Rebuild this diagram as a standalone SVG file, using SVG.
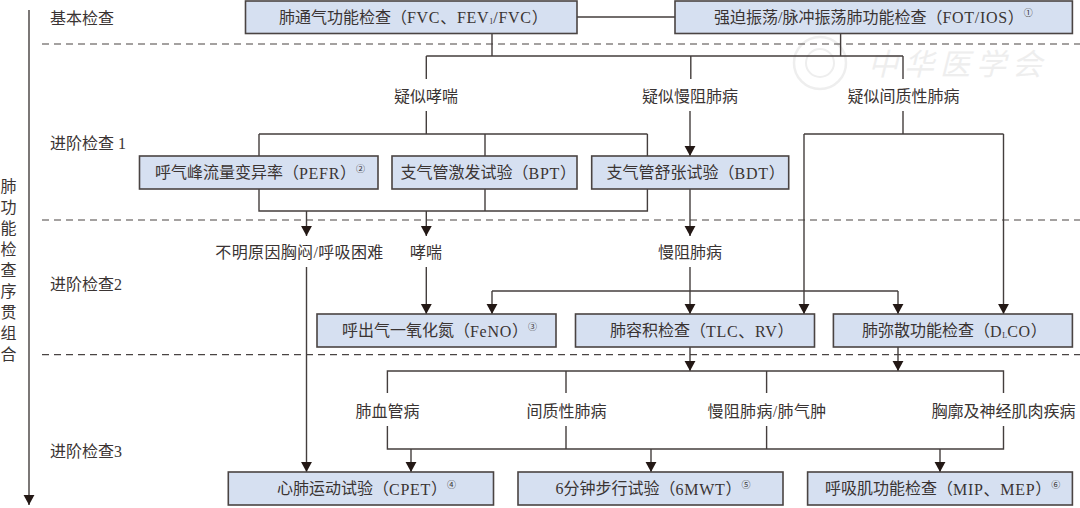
<svg xmlns="http://www.w3.org/2000/svg" width="1080" height="508" viewBox="0 0 1080 508">
<style>
text{font-family:"Liberation Serif","Noto Sans CJK SC",serif;font-size:16px;fill:#3a3433;text-anchor:middle;dominant-baseline:central}
.l,.t{text-anchor:start}
.box{fill:#d6e0f1;stroke:#4a4443;stroke-width:1.6}
.c{fill:none;stroke:#443e3d;stroke-width:1.4}
.d{fill:none;stroke:#4a4443;stroke-width:1.2;stroke-dasharray:7 5}
.w{letter-spacing:.7px}
.k{letter-spacing:.35px}
.s{font-size:9px}
.b{font-size:8px}
.wm{font-size:30px;fill:#eeeeee;letter-spacing:6px;font-style:italic;text-anchor:start}
</style>
<defs>
<marker id="a" markerUnits="userSpaceOnUse" markerWidth="13" markerHeight="13" refX="10.5" refY="6" orient="auto"><path d="M0,0.3 L10.5,6 L0,11.7 Z" fill="#231815"/></marker>
</defs>
<g id="watermark">
<circle cx="820" cy="63" r="26" fill="none" stroke="#eeeeee" stroke-width="2.5"/>
<circle cx="820" cy="63" r="14" fill="none" stroke="#eeeeee" stroke-width="2"/>
<text class="wm" x="868" y="64">中华医学会</text>
</g>
<g id="dividers">
<path class="d" d="M42,44H1080M42,220H1080M42,354.7H1080"/>
</g>
<g id="connectors">
<path class="c" marker-end="url(#a)" d="M29,10V505"/>
<path class="c" d="M577,17H675M492,33V56M840.6,33V56M426.3,56H903M426.3,56V79M690.8,56V79M903,56V79"/>
<path class="c" d="M426.3,111V134M259,134H647.4M259,134V156M485,134V156M647.4,134V156"/>
<path class="c" marker-end="url(#a)" d="M690,111V156"/>
<path class="c" d="M903,111V134M804,134H1003.5"/>
<path class="c" d="M259,189V211H647.4V189M485,189V211"/>
<path class="c" marker-end="url(#a)" d="M306.5,211V236"/>
<path class="c" marker-end="url(#a)" d="M426.3,211V236"/>
<path class="c" marker-end="url(#a)" d="M690,189V236"/>
<path class="c" marker-end="url(#a)" d="M306.5,267V472"/>
<path class="c" marker-end="url(#a)" d="M426.3,267V314"/>
<path class="c" marker-end="url(#a)" d="M690,267V314"/>
<path class="c" d="M492,291H898"/>
<path class="c" marker-end="url(#a)" d="M492,291V314"/>
<path class="c" marker-end="url(#a)" d="M898,291V314"/>
<path class="c" marker-end="url(#a)" d="M804,134V314"/>
<path class="c" marker-end="url(#a)" d="M1003.5,134V314"/>
<path class="c" marker-end="url(#a)" d="M690,347V371"/>
<path class="c" marker-end="url(#a)" d="M898,347V371"/>
<path class="c" d="M387.4,393V371H1003.5V393M566,371V393M766.6,371V393"/>
<path class="c" d="M387.4,426V449H1003.5V426M566,426V449M766.6,426V449"/>
<path class="c" marker-end="url(#a)" d="M411,449V472"/>
<path class="c" marker-end="url(#a)" d="M651,449V472"/>
<path class="c" marker-end="url(#a)" d="M940,449V472"/>
</g>
<g id="axis-label">
<text x="8.5" y="186">肺</text><text x="8.5" y="207">功</text><text x="8.5" y="228">能</text><text x="8.5" y="249">检</text><text x="8.5" y="270">查</text><text x="8.5" y="291">序</text><text x="8.5" y="312">贯</text><text x="8.5" y="333">组</text><text x="8.5" y="354">合</text>
</g>
<g id="stages">
<text class="l" x="50" y="18">基本检查</text>
<text class="l" x="50" y="143">进阶检查 1</text>
<text class="l" x="50" y="284">进阶检查2</text>
<text class="l" x="50" y="451">进阶检查3</text>
</g>
<g id="labels">
<text id="l1" x="426" y="96">疑似哮喘</text>
<text id="l2" x="690" y="96">疑似慢阻肺病</text>
<text id="l3" x="903.5" y="96">疑似间质性肺病</text>
<text id="l4" class="k" x="299.5" y="252">不明原因胸闷/呼吸困难</text>
<text id="l5" x="426" y="252">哮喘</text>
<text id="l6" x="690" y="252">慢阻肺病</text>
<text id="l7" x="387.5" y="411">肺血管病</text>
<text id="l8" x="566.5" y="411">间质性肺病</text>
<text id="l9" class="k" x="767" y="411">慢阻肺病/肺气肿</text>
<text id="l10" x="1003.5" y="411">胸廓及神经肌肉疾病</text>
</g>
<g id="n-spiro"><rect class="box" x="245.5" y="1" width="331.5" height="32.5"/><text class="t" x="279" y="17">肺通气功能检查（<tspan class="w">FVC、FEV</tspan><tspan class="b" dy="4">1</tspan><tspan class="w" dy="-4">/FVC</tspan>）</text></g>
<g id="n-fot"><rect class="box" x="675" y="1" width="397.4" height="32.5"/><text class="t" x="714" y="17">强迫振荡/脉冲振荡肺功能检查（<tspan class="w">FOT/IOS</tspan>）<tspan class="s" dy="-4">①</tspan></text></g>
<g id="n-pefr"><rect class="box" x="139.5" y="156" width="238.5" height="33"/><text class="t" x="155" y="172.5">呼气峰流量变异率（<tspan class="w">PEFR</tspan>）<tspan class="s" dy="-4">②</tspan></text></g>
<g id="n-bpt"><rect class="box" x="392" y="156" width="185" height="33"/><text class="t" x="400.5" y="172.5">支气管激发试验（<tspan class="w">BPT</tspan>）</text></g>
<g id="n-bdt"><rect class="box" x="591.7" y="156" width="197" height="33"/><text class="t" x="606.5" y="172.5">支气管舒张试验（<tspan class="w">BDT</tspan>）</text></g>
<g id="n-feno"><rect class="box" x="317" y="314" width="239" height="33"/><text class="t" x="342" y="330.5">呼出气一氧化氮（<tspan class="w">FeNO</tspan>）<tspan class="s" dy="-4">③</tspan></text></g>
<g id="n-tlc"><rect class="box" x="575.5" y="314" width="239" height="33"/><text class="t" x="610" y="330.5">肺容积检查（<tspan class="w">TLC、RV</tspan>）</text></g>
<g id="n-dlco"><rect class="box" x="833.4" y="314" width="239" height="33"/><text class="t" x="862" y="330.5">肺弥散功能检查（<tspan class="w">D</tspan><tspan class="b" dy="4">L</tspan><tspan class="w" dy="-4">CO</tspan>）</text></g>
<g id="n-cpet"><rect class="box" x="228.3" y="472" width="265.2" height="33"/><text class="t" x="277" y="488.5">心肺运动试验（<tspan class="w">CPET</tspan>）<tspan class="s" dy="-4">④</tspan></text></g>
<g id="n-6mwt"><rect class="box" x="518" y="472" width="265" height="33"/><text class="t" x="555.5" y="488.5">6分钟步行试验（<tspan class="w">6MWT</tspan>）<tspan class="s" dy="-4">⑤</tspan></text></g>
<g id="n-mip"><rect class="box" x="807.6" y="472" width="264.8" height="33"/><text class="t" x="825" y="488.5">呼吸肌功能检查（<tspan class="w">MIP、MEP</tspan>）<tspan class="s" dy="-4">⑥</tspan></text></g>
</svg>
